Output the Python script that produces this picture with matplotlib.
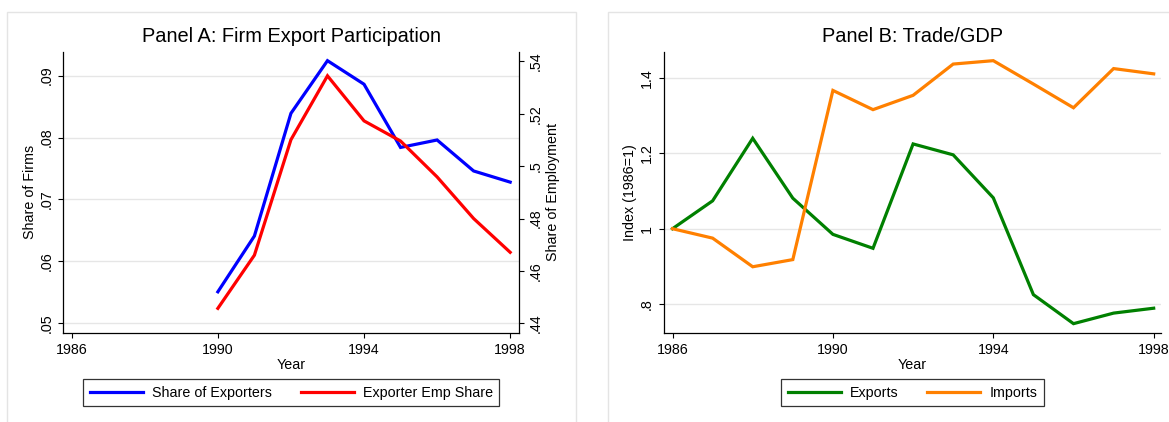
import matplotlib
matplotlib.use("Agg")
import matplotlib.pyplot as plt
from matplotlib.patches import Rectangle

plt.rcParams['font.family'] = ['Liberation Sans', 'DejaVu Sans']

# ---------------- data ----------------
years_a = [1990, 1991, 1992, 1993, 1994, 1995, 1996, 1997, 1998]
share_exporters = [0.0551, 0.0641, 0.0839, 0.0924, 0.0886, 0.0784, 0.0796, 0.0746, 0.0728]
exporter_emp_share = [0.4457, 0.4660, 0.5101, 0.5345, 0.5173, 0.5096, 0.4959, 0.4800, 0.4671]

years_b = [1986, 1987, 1988, 1989, 1990, 1991, 1992, 1993, 1994, 1995, 1996, 1997, 1998]
exports = [1.000, 1.074, 1.240, 1.081, 0.985, 0.948, 1.225, 1.196, 1.082, 0.825, 0.748, 0.776, 0.789]
imports = [1.000, 0.975, 0.899, 0.918, 1.367, 1.316, 1.354, 1.437, 1.446, 1.384, 1.321, 1.425, 1.411]

xticks = [1986, 1990, 1994, 1998]
yticks_a_left = [0.05, 0.06, 0.07, 0.08, 0.09]
ylabels_a_left = ['.05', '.06', '.07', '.08', '.09']
yticks_a_right = [0.44, 0.46, 0.48, 0.50, 0.52, 0.54]
ylabels_a_right = ['.44', '.46', '.48', '.5', '.52', '.54']
yticks_b = [0.8, 1.0, 1.2, 1.4]
ylabels_b = ['.8', '1', '1.2', '1.4']

W, H = 1169, 422
fig = plt.figure(figsize=(W / 100, H / 100), dpi=100)
fig.patch.set_facecolor('white')

def px(x0, y0, x1, y1):
    return [x0 / W, 1 - y1 / H, (x1 - x0) / W, (y1 - y0) / H]

# panel borders
for (bx0, bx1) in [(7.3, 575.7), (607.7, 1190)]:
    fig.patches.append(Rectangle((bx0 / W, -0.1), (bx1 - bx0) / W, (H - 12.3) / H + 0.1,
                                 transform=fig.transFigure, fill=False,
                                 edgecolor='#e4e4e4', linewidth=1.0, zorder=0))

FS = 10.3
TFS = 14.4
LW = 2.3
GRID = '#e6e6e6'

def style(ax, spines):
    for s in ['left', 'right', 'top', 'bottom']:
        ax.spines[s].set_visible(s in spines)
        ax.spines[s].set_linewidth(0.9)
        ax.spines[s].set_color('black')
    ax.tick_params(direction='out', length=3.6, width=0.8, labelsize=FS, pad=3.5)
    ax.set_facecolor('none')

# ---------------- Panel A ----------------
axA = fig.add_axes(px(63.3, 52, 519.3, 332.7))
style(axA, ['left', 'bottom'])
axA.plot(years_a, share_exporters, color='#0000ff', lw=LW, solid_joinstyle='miter', label='Share of Exporters', zorder=3)
axA.set_xlim(1985.77, 1998.25)
axA.set_ylim(0.0485, 0.0938)
axA.set_xticks(xticks)
axA.set_xticklabels([str(t) for t in xticks])
axA.set_yticks(yticks_a_left)
axA.set_yticklabels(ylabels_a_left, rotation=90, va='center')
axA.grid(axis='y', color=GRID, lw=1.0)
axA.set_axisbelow(True)
axA.set_ylabel('Share of Firms', fontsize=FS, labelpad=2)
axA.set_xlabel('Year', fontsize=FS, labelpad=1)
axA.set_title('Panel A: Firm Export Participation', fontsize=TFS, pad=7)

axA2 = axA.twinx()
style(axA2, ['right'])
axA2.plot(years_a, exporter_emp_share, color='#ff0000', lw=LW, solid_joinstyle='miter', label='Exporter Emp Share', zorder=3)
axA2.set_ylim(0.4364, 0.5436)
axA2.set_yticks(yticks_a_right)
axA2.set_yticklabels(ylabels_a_right, rotation=90, va='center')
axA2.set_ylabel('Share of Employment', fontsize=FS, rotation=90, labelpad=2)

hA = axA.get_lines() + axA2.get_lines()
legA = fig.legend(hA, [h.get_label() for h in hA], loc='center', bbox_to_anchor=(291.4 / W, 1 - 392.7 / H),
                  ncol=2, fontsize=FS, frameon=True, fancybox=False, edgecolor='black',
                  handlelength=3.7, handletextpad=0.65, columnspacing=2.0, borderpad=0.45,
                  borderaxespad=0)
legA.get_frame().set_linewidth(0.9)

# ---------------- Panel B ----------------
axB = fig.add_axes(px(663.7, 52, 1161.3, 332.7))
style(axB, ['left', 'bottom'])
axB.plot(years_b, exports, color='#008000', lw=LW, solid_joinstyle='miter', label='Exports', zorder=3)
axB.plot(years_b, imports, color='#ff8000', lw=LW, solid_joinstyle='miter', label='Imports', zorder=3)
axB.set_xlim(1985.78, 1998.19)
axB.set_ylim(0.724, 1.469)
axB.set_xticks(xticks)
axB.set_xticklabels([str(t) for t in xticks])
axB.set_yticks(yticks_b)
axB.set_yticklabels(ylabels_b, rotation=90, va='center')
axB.grid(axis='y', color=GRID, lw=1.0)
axB.set_axisbelow(True)
axB.set_ylabel('Index (1986=1)', fontsize=FS, labelpad=2)
axB.set_xlabel('Year', fontsize=FS, labelpad=1)
axB.set_title('Panel B: Trade/GDP', fontsize=TFS, pad=7)

hB = axB.get_lines()
legB = fig.legend(hB, [h.get_label() for h in hB], loc='center', bbox_to_anchor=(912.5 / W, 1 - 392.7 / H),
                  ncol=2, fontsize=FS, frameon=True, fancybox=False, edgecolor='black',
                  handlelength=3.7, handletextpad=0.65, columnspacing=2.0, borderpad=0.45,
                  borderaxespad=0)
legB.get_frame().set_linewidth(0.9)

fig.savefig('out.png', dpi=100, facecolor='white')
